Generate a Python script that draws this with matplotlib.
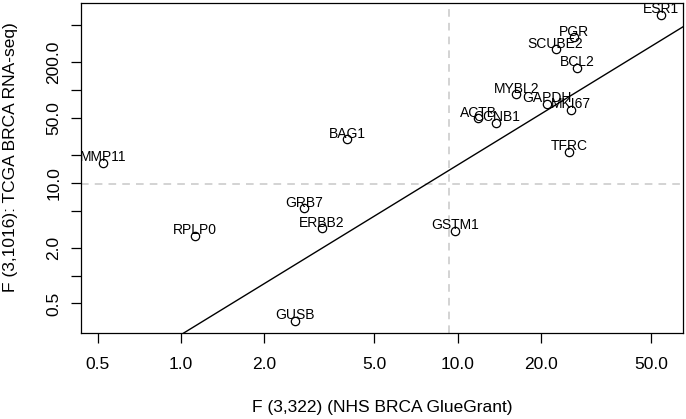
import matplotlib
matplotlib.use("Agg")
import matplotlib.pyplot as plt
import numpy as np
from matplotlib.ticker import FixedLocator, FixedFormatter, NullLocator

genes = ["MMP11", "BAG1", "ESR1", "PGR", "SCUBE2", "BCL2", "MYBL2", "GAPDH",
         "MKI67", "ACTB", "CCNB1", "TFRC", "GRB7", "ERBB2", "RPLP0", "GUSB", "GSTM1"]
f_glue = [0.524, 3.99, 54.4, 26.4, 22.6, 27.0, 16.3, 21.0,
          25.6, 11.9, 13.8, 25.3, 2.79, 3.23, 1.12, 2.59, 9.79]
f_tcga = [16.4, 29.4, 644, 370, 275, 174, 89.9, 70.6,
          60.9, 49.5, 44.4, 21.6, 5.30, 3.22, 2.68, 0.324, 3.03]

x_thresh = 9.31
y_thresh = 9.6
line_intercept = -0.638   # log10 scale
line_slope = 1.83

x_ticks = [0.5, 1, 2, 5, 10, 20, 50]
x_labels = ["0.5", "1.0", "2.0", "5.0", "10.0", "20.0", "50.0"]
y_ticks = [0.5, 1, 2, 5, 10, 20, 50, 100, 200, 500]
y_labels = ["0.5", "", "2.0", "", "10.0", "", "50.0", "", "200.0", ""]

plt.rcParams['font.family'] = ['Liberation Sans', 'DejaVu Sans']

fig = plt.figure(figsize=(6.86, 4.19), dpi=100)
ax = fig.add_axes([81/686, (419-333)/419, (683-81)/686, (333-3)/419])
ax.set_xscale('log')
ax.set_yscale('log')
ax.set_xlim(0.435, 65.3)
ax.set_ylim(0.24, 871)

ax.axvline(x_thresh, color='#c8c8c8', linestyle=(0, (5, 4)), linewidth=1.1, zorder=1)
ax.axhline(y_thresh, color='#c8c8c8', linestyle=(0, (5, 4)), linewidth=1.1, zorder=1)

xl = np.array(ax.get_xlim())
ax.plot(xl, 10 ** (line_intercept + line_slope * np.log10(xl)), color='black',
        linewidth=1.0, zorder=2)
ax.set_xlim(0.435, 65.3)

ax.plot(f_glue, f_tcga, linestyle='none', marker='o', markersize=6,
        markerfacecolor='none', markeredgecolor='black', markeredgewidth=0.9, zorder=3)
for g, xv, yv in zip(genes, f_glue, f_tcga):
    ax.annotate(g, (xv, yv), xytext=(0, 1.2), textcoords='offset points',
                ha='center', va='baseline', fontsize=10, zorder=4)

ax.xaxis.set_major_locator(FixedLocator(x_ticks))
ax.xaxis.set_major_formatter(FixedFormatter(x_labels))
ax.xaxis.set_minor_locator(NullLocator())
ax.yaxis.set_major_locator(FixedLocator(y_ticks))
ax.yaxis.set_major_formatter(FixedFormatter(y_labels))
ax.yaxis.set_minor_locator(NullLocator())
ax.tick_params(axis='both', length=7, width=0.9, labelsize=12.5, direction='out')
ax.tick_params(axis='x', pad=10.5)
ax.tick_params(axis='y', pad=7)
for lab in ax.get_yticklabels():
    lab.set_rotation(90)
    lab.set_va('center')
for s in ax.spines.values():
    s.set_linewidth(0.9)

ax.set_xlabel("F (3,322) (NHS BRCA GlueGrant)", fontsize=12.5, va='center')
ax.xaxis.set_label_coords(0.5, (333 - 407) / 330)
ax.set_ylabel("F (3,1016): TCGA BRCA RNA-seq)", fontsize=12.5, va='center')
ax.yaxis.set_label_coords((11 - 81) / 602, (333 - 157.5) / 330)

fig.savefig("out.png", dpi=100)
